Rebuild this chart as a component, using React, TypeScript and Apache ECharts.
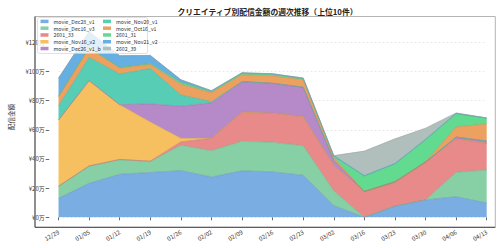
import React, { useEffect, useRef } from "react";
import * as echarts from "echarts";

const categories = ["12/29", "01/05", "01/12", "01/19", "01/26", "02/02", "02/09", "02/16", "02/23", "03/02", "03/16", "03/23", "03/30", "04/06", "04/13"];

const seriesNames = ["movie_Dec28_v1", "movie_Dec16_v3", "2601_33", "movie_Nov16_v2", "movie_Dec26_v1_b", "movie_Nov20_v1", "movie_Oct16_v1", "2601_31", "movie_Nov21_v2", "2602_39"];

const dec28v1 = [13.0, 23.3, 29.5, 30.7, 32.0, 27.6, 31.9, 31.1, 28.8, 8.0, 0, 7.6, 11.9, 14.1, 9.8];
const dec16v3 = [8.3, 11.7, 10.0, 7.6, 17.4, 18.1, 20.3, 20.3, 20.3, 10.2, 0, 0, 0, 16.8, 22.6];
const s2601_33 = [0, 0.3, 0.2, 0.2, 2.3, 8.5, 19.8, 20.0, 19.9, 17.4, 17.7, 16.3, 26.0, 22.9, 18.4];
const nov16v2 = [45.4, 58.4, 37.5, 26.9, 2.5, 0, 0, 0, 0, 0, 0, 0, 0, 0, 0];
const dec26v1b = [0, 0, 0, 12.4, 21.9, 24.3, 21.0, 20.5, 20.2, 3.4, 0, 0.4, 0, 1.2, 1.5];
const nov20v1 = [9.7, 15.9, 21.1, 24.2, 7.8, 0.8, 0, 0, 0, 0, 0, 0, 0, 0, 0];
const oct16v1 = [6.5, 6.5, 4.1, 2.9, 7.4, 6.2, 4.8, 5.1, 5.2, 2.0, 0, 0.3, 0, 7.0, 11.7];
const s2601_31 = [0, 0.3, 0.4, 0.5, 1.3, 0.8, 1.0, 1.1, 0.7, 0.8, 10.6, 12.0, 15.3, 9.0, 4.1];
const nov21v2 = [12.5, 10.9, 8.0, 5.6, 1.7, 0.5, 0.3, 0.3, 0.4, 0.5, 0.3, 0.3, 0.3, 0.3, 0];
const s2602_39 = [0, 0, 0, 0, 0, 0, 0, 0, 0, 0, 16.8, 16.9, 7.6, 0.3, 0];

const seriesValues = [dec28v1, dec16v3, s2601_33, nov16v2, dec26v1b, nov20v1, oct16v1, s2601_31, nov21v2, s2602_39];

const yTicks = [0, 20, 40, 60, 80, 100, 120];

const fillColors = ["#7AAEE2", "#87CFA5", "#E8898A", "#F6BF5F", "#B689C9", "#58CDB5", "#EDA160", "#62DA90", "#66AFE2", "#B0BFBC"];

function darker(hex: string, f: number) {
  const n = parseInt(hex.slice(1), 16);
  const r = Math.round(((n >> 16) & 255) * f);
  const g = Math.round(((n >> 8) & 255) * f);
  const b = Math.round((n & 255) * f);
  return `rgb(${r},${g},${b})`;
}

const FONT = "'Noto Sans CJK JP', 'Noto Sans', sans-serif";

// frame (axes box) geometry
const FL = 35, FR = 495.3, FT = 16.5, FB = 227.3;

export default function App() {
  const ref = useRef<HTMLDivElement>(null);
  useEffect(() => {
    if (!ref.current) return;
    const chart = echarts.init(ref.current, undefined, { renderer: "svg" });
    const series = seriesNames.map((name, k) => ({
      name,
      type: "line",
      stack: "total",
      data: seriesValues[k],
      showSymbol: false,
      symbol: "none",
      color: fillColors[k],
      lineStyle: { width: 0.6, color: darker(fillColors[k], 0.85) },
      areaStyle: { color: fillColors[k], opacity: 1 },
      z: 2,
    }));
    const legendCommon = {
      orient: "vertical",
      top: 18.8,
      padding: 0,
      itemWidth: 8,
      itemHeight: 3.5,
      itemGap: 1.6,
      icon: "rect",
      z: 20,
      textStyle: { fontSize: 5.2, lineHeight: 5, color: "#333", fontFamily: FONT },
    };
    chart.setOption({
      animation: false,
      textStyle: { fontFamily: FONT },
      title: {
        text: "クリエイティブ別配信金額の週次推移（上位10件）",
        left: 262.5,
        textAlign: "center",
        top: 3,
        textStyle: { fontSize: 7.8, fontWeight: "bold", color: "#222", fontFamily: FONT },
      },
      grid: {
        left: 44.3,
        right: 13.3,
        top: FT,
        bottom: 248 - 217.3,
      },
      xAxis: {
        type: "category",
        data: categories,
        boundaryGap: false,
        offset: FB - 217.3,
        axisLine: { show: false },
        axisTick: { show: true, alignWithLabel: true, length: 3, lineStyle: { color: "#444", width: 0.8 } },
        axisLabel: {
          interval: 0,
          rotate: 30,
          fontSize: 6,
          color: "#333",
          margin: 4,
          fontFamily: FONT,
        },
        splitLine: { show: false },
      },
      yAxis: {
        type: "value",
        min: 0,
        max: 137.7,
        interval: 20,
        offset: 44.3 - FL,
        name: "配信金額",
        nameLocation: "middle",
        nameGap: 30,
        nameRotate: 90,
        nameTextStyle: { fontSize: 6.5, color: "#333", fontFamily: FONT },
        axisLine: { show: false },
        axisTick: { show: true, customValues: yTicks, length: 3.5, lineStyle: { color: "#444", width: 0.8 } },
        axisLabel: {
          customValues: yTicks,
          formatter: (v: number) => `¥${v}万`,
          fontSize: 6,
          color: "#333",
          margin: 4.5,
          fontFamily: FONT,
        },
        splitLine: { show: true, lineStyle: { color: "#dcdcdc", width: 0.6, type: [2, 2] } },
      },
      legend: [
        { ...legendCommon, data: seriesNames.slice(0, 5), left: 40.5 },
        { ...legendCommon, data: seriesNames.slice(5), left: 103 },
      ],
      graphic: [
        {
          type: "rect",
          z: 1,
          shape: { x: FL, y: FT, width: FR - FL, height: FB - FT },
          style: { fill: "none", stroke: "#b5b5b5", lineWidth: 1 },
        },
        {
          type: "line",
          z: 1,
          shape: { x1: FL, y1: FT, x2: FL, y2: FB },
          style: { stroke: "#444", lineWidth: 1 },
        },
        {
          type: "line",
          z: 1,
          shape: { x1: FL, y1: FB, x2: FR, y2: FB },
          style: { stroke: "#444", lineWidth: 1 },
        },
        {
          type: "rect",
          z: 10,
          shape: { x: 37.5, y: 17.5, width: 110, height: 36, r: 2 },
          style: { fill: "rgba(255,255,255,0.8)", stroke: "#cccccc", lineWidth: 0.6 },
        },
      ],
      series,
    });
    return () => chart.dispose();
  }, []);
  return <div ref={ref} style={{ width: 500, height: 248, position: "absolute", left: 0, top: 0 }} />;
}
